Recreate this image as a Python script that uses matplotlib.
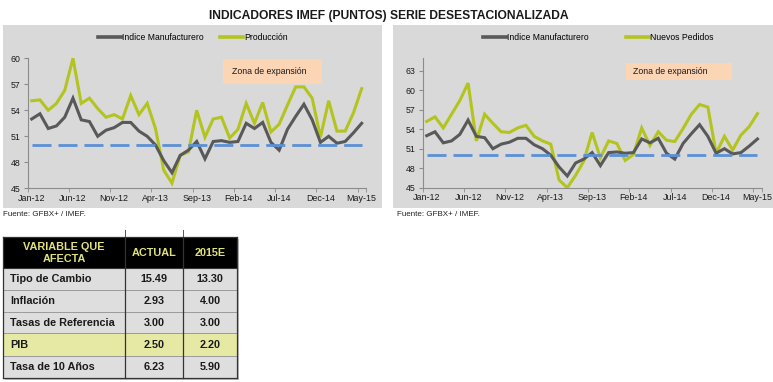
import matplotlib
matplotlib.use("Agg")
import matplotlib.pyplot as plt
from matplotlib.patches import Rectangle
from matplotlib.lines import Line2D
import pandas as pd

plt.rcParams['font.family'] = ['Liberation Sans', 'DejaVu Sans']
plt.rcParams['lines.scale_dashes'] = False

# ---------------- data ----------------
months = list(pd.date_range('2012-01-01', periods=41, freq='MS').strftime('%b-%y'))
tick_step = 5

manufacturero = [53.0, 53.6, 51.9, 52.2, 53.2, 55.4, 52.9, 52.7, 51.0, 51.7, 52.0, 52.6,
                 52.6, 51.6, 51.0, 50.0, 48.2, 46.8, 48.8, 49.4, 50.4, 48.4, 50.4, 50.5,
                 50.3, 50.4, 52.5, 51.9, 52.6, 50.3, 49.4, 51.8, 53.3, 54.7, 52.9, 50.3,
                 51.0, 50.2, 50.4, 51.4, 52.5]
produccion = [55.1, 55.2, 54.0, 54.8, 56.3, 60.0, 54.8, 55.4, 54.2, 53.2, 53.5, 53.0,
              55.7, 53.5, 54.8, 51.9, 47.1, 45.6, 48.8, 49.2, 54.0, 50.9, 53.0, 53.2,
              50.8, 51.8, 54.8, 52.5, 54.9, 51.5, 52.4, 54.6, 56.7, 56.7, 55.4, 50.9,
              55.1, 51.6, 51.6, 53.7, 56.5]
nuevos_pedidos = [55.2, 55.9, 54.2, 56.3, 58.4, 61.1, 52.2, 56.3, 54.9, 53.6, 53.5, 54.2,
                  54.6, 52.9, 52.2, 51.7, 46.2, 45.0, 46.9, 49.1, 53.5, 49.6, 52.2, 51.8,
                  49.2, 50.1, 54.2, 51.5, 53.6, 52.3, 52.1, 54.1, 56.3, 57.8, 57.4, 50.3,
                  52.9, 50.8, 53.1, 54.4, 56.4]
umbral = 50

table_header = ['VARIABLE QUE\nAFECTA', 'ACTUAL', '2015E']
table_vars = ['Tipo de Cambio', 'Inflación', 'Tasas de Referencia', 'PIB', 'Tasa de 10 Años']
table_actual = ['15.49', '2.93', '3.00', '2.50', '6.23']
table_2015 = ['13.30', '4.00', '3.00', '2.20', '5.90']
highlight_row = 'PIB'

# ---------------- style ----------------
W, H = 773, 382
GRAY = '#595959'
GREEN = '#b4c41e'
BLUE = '#5b8fd6'
PANEL = '#d9d9d9'
ZONA = '#fcd5b5'
AXC = '#8c8c8c'

fig = plt.figure(figsize=(W / 100, H / 100), dpi=100)

# overlay in pixel coordinates
ov = fig.add_axes([0, 0, 1, 1], zorder=0)
ov.set_xlim(0, W)
ov.set_ylim(H, 0)
ov.axis('off')


def px_axes(x0, y0, x1, y1, z=2):
    return fig.add_axes([x0 / W, 1 - y1 / H, (x1 - x0) / W, (y1 - y0) / H], zorder=z)


# title
ov.text(389, 16, 'INDICADORES IMEF (PUNTOS) SERIE DESESTACIONALIZADA',
        ha='center', va='center', fontsize=8.7, fontweight='bold', color='#1a1a1a')

# panels
ov.add_patch(Rectangle((3, 25), 379, 183, facecolor=PANEL, edgecolor='none'))
ov.add_patch(Rectangle((393, 25), 380, 183, facecolor=PANEL, edgecolor='none'))
ov.text(3, 215, 'Fuente: GFBX+ / IMEF.', fontsize=5.8, va='center', ha='left', color='#222222')
ov.text(397, 215, 'Fuente: GFBX+ / IMEF.', fontsize=5.8, va='center', ha='left', color='#222222')

# Zona de expansión boxes
ov.add_patch(Rectangle((223, 59), 99, 25, facecolor=ZONA, edgecolor='none', zorder=3))
ov.text(232, 71.5, 'Zona de expansión', fontsize=6.3, va='center', ha='left', color='#1a1a1a', zorder=4)
ov.add_patch(Rectangle((626, 63), 106, 17, facecolor=ZONA, edgecolor='none', zorder=3))
ov.text(633, 71.5, 'Zona de expansión', fontsize=6.3, va='center', ha='left', color='#1a1a1a', zorder=4)

x = list(range(len(months)))


def style_chart(ax, ylim, yticks):
    ax.set_facecolor('none')
    ax.set_xlim(-0.5, len(months) - 0.5)
    ax.set_ylim(*ylim)
    ax.set_yticks(yticks)
    ax.set_xticks(x[::tick_step])
    ax.set_xticklabels(months[::tick_step], fontsize=6.4, color='#1a1a1a')
    ax.tick_params(axis='x', length=0, pad=4)
    ax.set_xticks([i - 0.5 for i in range(0, len(months), tick_step)] + [len(months) - 0.5], minor=True)
    ax.tick_params(axis='x', which='minor', length=3, color=AXC, direction='out')
    ax.tick_params(axis='y', labelsize=6.3, labelcolor='#1a1a1a', length=3, color=AXC, pad=2)
    for s in ['top', 'right']:
        ax.spines[s].set_visible(False)
    for s in ['left', 'bottom']:
        ax.spines[s].set_color(AXC)
        ax.spines[s].set_linewidth(0.8)


def draw(ax, s2):
    ax.plot(x, manufacturero, color=GRAY, lw=2.2, solid_joinstyle='miter', zorder=3)
    ax.plot(x, s2, color=GREEN, lw=2.2, solid_joinstyle='miter', zorder=2)
    ax.plot(x, [umbral] * len(x), color=BLUE, lw=2.0, dashes=(13.7, 5.0), zorder=4)


# left chart
axL = px_axes(27.6, 58.3, 365.8, 188.3)
style_chart(axL, (45, 60), [45, 48, 51, 54, 57, 60])
draw(axL, produccion)
axL.legend(handles=[Line2D([], [], color=GRAY, lw=2.6), Line2D([], [], color=GREEN, lw=2.6)],
           labels=['Indice Manufacturero', 'Producción'], ncol=2, frameon=False,
           fontsize=6.2, handlelength=2.7, handletextpad=0.1, columnspacing=1.9,
           loc='center', bbox_to_anchor=(193 / W, 1 - 38 / H),
           bbox_transform=fig.transFigure)

# right chart
axR = px_axes(422.6, 57.7, 761.6, 187.7)
style_chart(axR, (45, 65), [45, 48, 51, 54, 57, 60, 63])
draw(axR, nuevos_pedidos)
axR.legend(handles=[Line2D([], [], color=GRAY, lw=2.6), Line2D([], [], color=GREEN, lw=2.6)],
           labels=['Indice Manufacturero', 'Nuevos Pedidos'], ncol=2, frameon=False,
           fontsize=6.2, handlelength=2.7, handletextpad=0.1, columnspacing=4.3,
           loc='center', bbox_to_anchor=(598 / W, 1 - 38 / H),
           bbox_transform=fig.transFigure)

# ---------------- table ----------------
col_x = [3.3, 125, 183.3, 236.7]
row_y = [236.7, 268.3, 290, 311.7, 333.3, 355.7, 377.7]
HEAD_TXT = '#e2e27a'
BODY = '#dedede'
HIL = '#e6e9a3'

# shadow
ov.add_patch(Rectangle((col_x[0] + 2, row_y[0] + 2), col_x[-1] - col_x[0], row_y[-1] - row_y[0],
                       facecolor='#bdbdbd', edgecolor='none', zorder=1))
# header
ov.add_patch(Rectangle((col_x[0], row_y[0]), col_x[-1] - col_x[0], row_y[1] - row_y[0],
                       facecolor='black', edgecolor='none', zorder=2))
hy = (row_y[0] + row_y[1]) / 2
for j, h in enumerate(table_header):
    cx = (col_x[j] + col_x[j + 1]) / 2
    ov.text(cx, hy + 0.5, h, ha='center', va='center', fontsize=7.8, fontweight='bold',
            color=HEAD_TXT, linespacing=1.15, zorder=3)

rows = list(zip(table_vars, table_actual, table_2015))
for i, r in enumerate(rows):
    y0, y1 = row_y[i + 1], row_y[i + 2]
    fc = HIL if r[0] == highlight_row else BODY
    ov.add_patch(Rectangle((col_x[0], y0), col_x[-1] - col_x[0], y1 - y0,
                           facecolor=fc, edgecolor='none', zorder=2))
    cy = (y0 + y1) / 2
    ov.text(col_x[0] + 6.5, cy, r[0], ha='left', va='center', fontsize=7.8,
            fontweight='bold', color='#1a1a1a', zorder=3)
    for j in (1, 2):
        cx = (col_x[j] + col_x[j + 1]) / 2
        ov.text(cx, cy, r[j], ha='center', va='center', fontsize=7.8,
                fontweight='bold', color='#1a1a1a', zorder=3)
    ov.plot([col_x[0], col_x[-1]], [y1, y1], color='#9a9a9a', lw=0.7, zorder=4)

ov.plot([col_x[0], col_x[-1]], [row_y[1], row_y[1]], color='#333333', lw=0.8, zorder=4)
for cxl in col_x:
    ov.plot([cxl, cxl], [row_y[0], row_y[-1]], color='#333333', lw=0.9, zorder=4)
for cxl in col_x[1:3]:
    ov.plot([cxl, cxl], [row_y[0] - 7, row_y[0]], color='#555555', lw=0.7, zorder=4)
ov.plot([col_x[0], col_x[-1]], [row_y[0], row_y[0]], color='#333333', lw=0.9, zorder=4)
ov.plot([col_x[0], col_x[-1]], [row_y[-1], row_y[-1]], color='#333333', lw=0.9, zorder=4)

fig.savefig('out.png', dpi=100, facecolor='white')
